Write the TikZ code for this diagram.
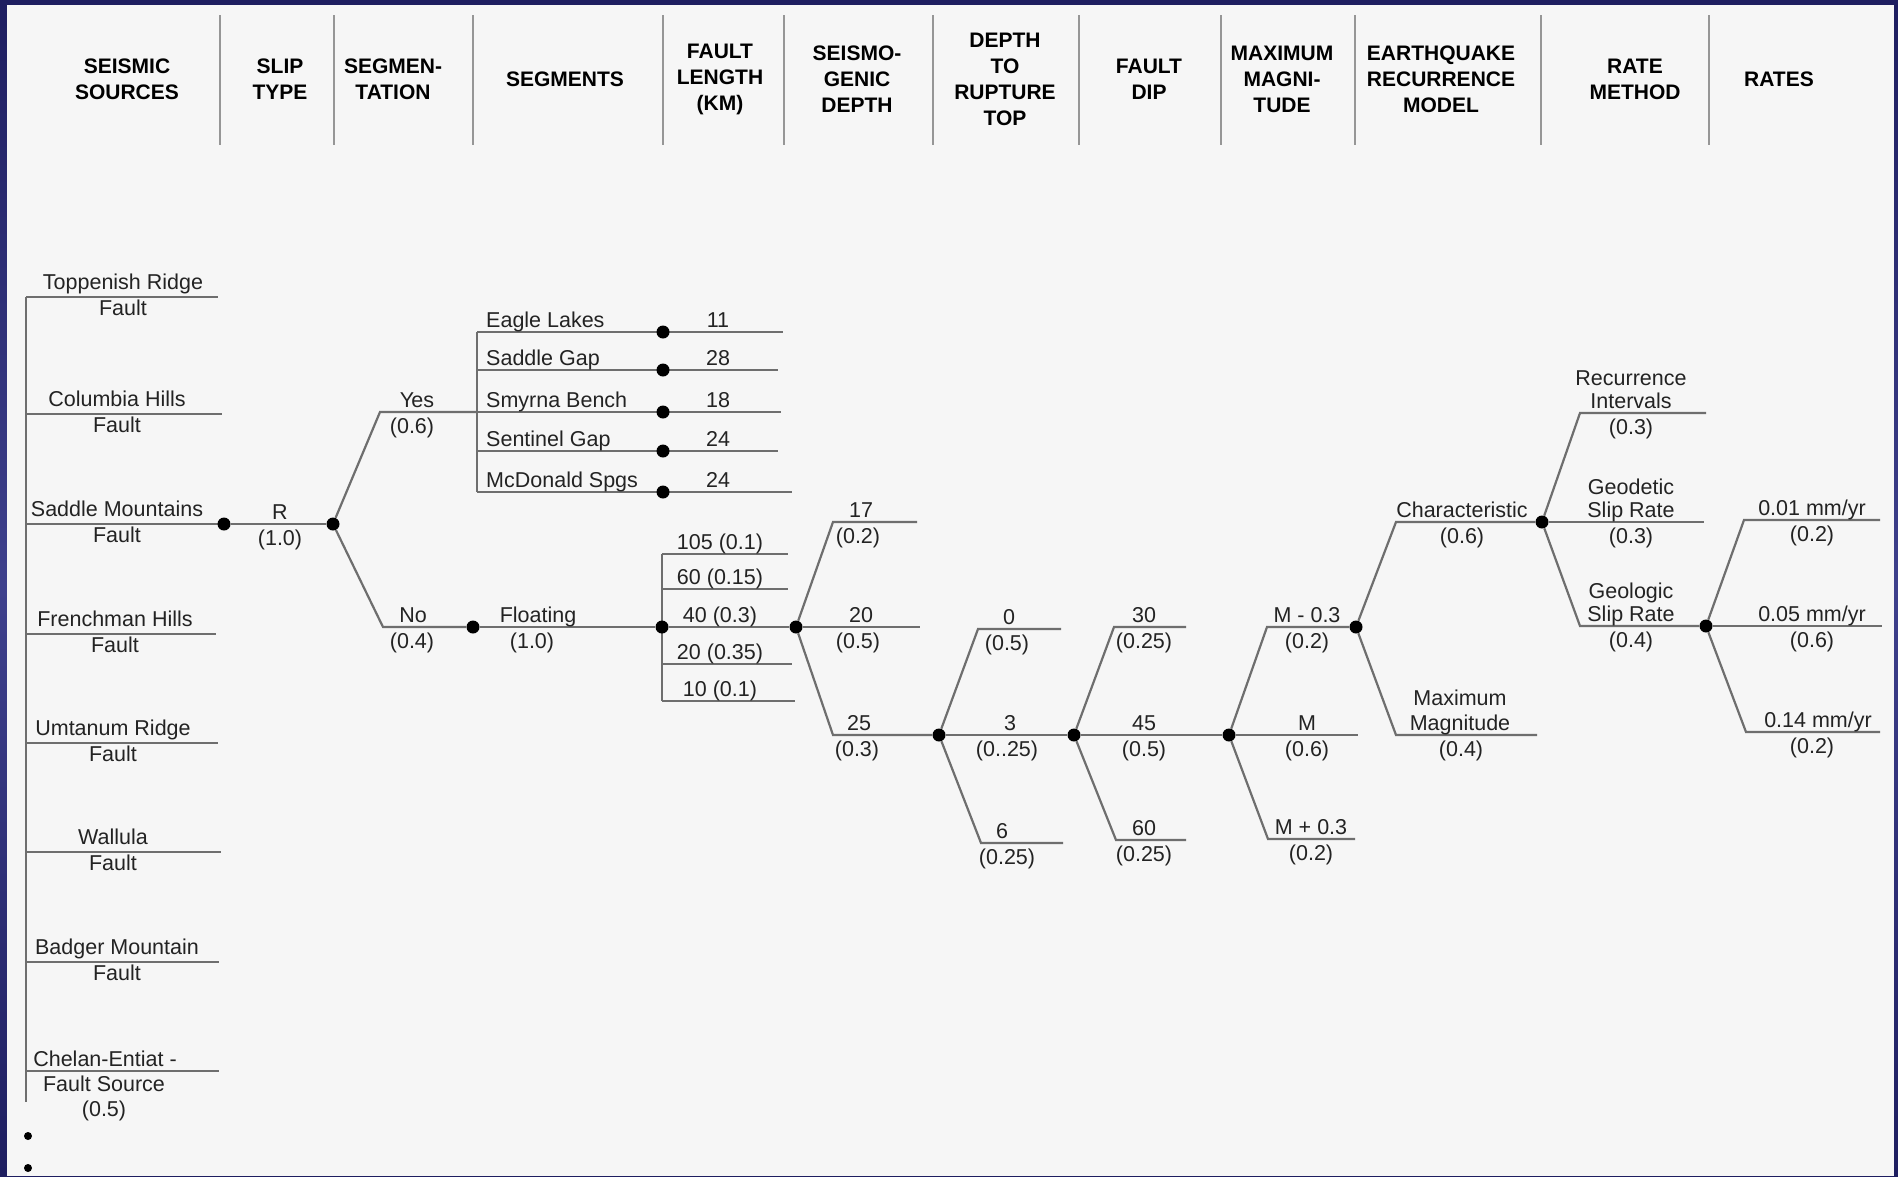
\documentclass[tikz,border=0pt]{standalone}
\usepackage{fontspec}
\setmainfont{Liberation Sans}
\usetikzlibrary{positioning}

\definecolor{bluedark}{RGB}{30,30,96}
\definecolor{bluemid}{RGB}{62,64,140}
\definecolor{panel}{RGB}{246,246,246}
\definecolor{linegray}{RGB}{110,110,110}
\definecolor{sepgray}{RGB}{150,150,150}
\definecolor{ink}{RGB}{35,35,35}

\newcommand{\lstrut}{\rule[-4.6pt]{0pt}{20.4pt}}

\begin{document}
\begin{tikzpicture}[x=1pt,y=-1pt,
    dot/.style={circle,fill=black,inner sep=0pt,minimum size=13pt},
    smalldot/.style={circle,fill=black,inner sep=0pt,minimum size=8pt},
    branch/.style={draw=linegray,line width=2.2pt},
    colsep/.style={draw=sepgray,line width=2pt},
    hdr/.style={font=\fontsize{21pt}{26pt}\selectfont\bfseries,align=center,inner sep=0pt,text=black},
    lbl/.style={font=\fontsize{21.5pt}{25pt}\selectfont,align=center,inner sep=0pt,text=ink,
        execute at begin node=\lstrut,execute at end node=\lstrut},
    toplbl/.style={lbl,anchor=south},
    botlbl/.style={lbl,anchor=north,yshift=-5pt},
    src/.style={lbl,font=\fontsize{21.5pt}{26pt}\selectfont},
    tight/.style={font=\fontsize{21.5pt}{22.5pt}\selectfont}]

    % Draw slide background
    \shade[top color=bluedark,bottom color=bluedark,middle color=bluemid] (0,0) rectangle (1898,1176);
    \fill[panel] (7,5) rectangle (1894,1176);
    \useasboundingbox (0,0) rectangle (1898,1176);

    % Draw column headings
    \foreach \x in {220,334,473,663,784,933,1079,1221,1355,1541,1709}
        \draw[colsep] (\x,15) -- (\x,145);
    \foreach \x/\txt [count=\i] in {127/SEISMIC\\SOURCES, 280/SLIP\\TYPE, 393/SEGMEN-\\TATION,
            565/SEGMENTS, 720/FAULT\\LENGTH\\(KM), 857/SEISMO-\\GENIC\\DEPTH,
            1005/DEPTH\\TO\\RUPTURE\\TOP, 1149/FAULT\\DIP, 1282/MAXIMUM\\MAGNI-\\TUDE,
            1441/EARTHQUAKE\\RECURRENCE\\MODEL, 1635/RATE\\METHOD, 1779/RATES}
        \node[hdr] (hdr\i) at (\x,79) {\txt};

    % Draw seismic sources
    \foreach \y/\xe/\xl/\nm [count=\i] in {297/218/123/Toppenish Ridge, 414/222/117/Columbia Hills,
            524/224/117/Saddle Mountains, 634/216/115/Frenchman Hills, 743/218/113/Umtanum Ridge,
            852/221/113/Wallula, 962/219/117/Badger Mountain}{
        \coordinate (src\i) at (26,\y);
        \coordinate (srcend\i) at (\xe,\y);
        \draw[branch] (src\i) -- (srcend\i);
        \node[src] (srclbl\i) at (\xl,\y) {\nm\\Fault\lstrut};
    }
    \coordinate (src8) at (26,1071);
    \coordinate (srcend8) at (219,1071);
    \coordinate (srcbot) at (26,1102);
    \draw[branch] (src8) -- (srcend8);
    \draw[branch] (src1) -- (srcbot);
    \node[toplbl] (srclbl8) at (105,1071) {Chelan-Entiat -};
    \node[botlbl] (srcprob8) at (104,1071) {Fault Source\\(0.5)};
    \node[smalldot] (more1) at (28,1136) {};
    \node[smalldot] (more2) at (28,1168) {};

    % Slip type
    \node[dot] (smdot) at (srcend3) {};
    \node[dot] (slip) at (333,524) {};
    \draw[branch] (smdot) -- (slip);
    \node[toplbl] (lslip) at (280,524) {R};
    \node[botlbl] (pslip) at (280,524) {(1.0)};

    % Segmentation
    \coordinate (yescorner) at (380,412);
    \coordinate (segjoin) at (477,412);
    \coordinate (nocorner) at (383,627);
    \node[dot] (float) at (473,627) {};
    \draw[branch] (slip) -- (yescorner) -- (segjoin);
    \draw[branch] (slip) -- (nocorner) -- (float);
    \node[toplbl] (lyes) at (417,412) {Y\kern-3pt es};
    \node[botlbl] (pyes) at (412,412) {(0.6)};
    \node[toplbl] (lno) at (413,627) {No};
    \node[botlbl] (pno) at (412,627) {(0.4)};

    % Segments
    \coordinate (segtop) at (477,332);
    \coordinate (segbot) at (477,492);
    \draw[branch] (segtop) -- (segbot);
    \foreach \y/\xe/\nm/\len [count=\i] in {332/783/Eagle Lakes/11, 370/778/Saddle Gap/28,
            412/781/Smyrna Bench/18, 451/778/Sentinel Gap/24, 492/792/McDonald Spgs/24}{
        \coordinate (seg\i) at (477,\y);
        \coordinate (segend\i) at (\xe,\y);
        \draw[branch] (seg\i) -- (segend\i);
        \node[dot] (segdot\i) at (663,\y) {};
        \node[toplbl,anchor=south west] (segname\i) at (486,\y) {\nm};
        \node[toplbl] (seglen\i) at (718,\y) {\len};
    }

    % Floating rupture and fault length
    \coordinate (fltop) at (662,554);
    \coordinate (flbot) at (662,701);
    \draw[branch] (fltop) -- (flbot);
    \foreach \y/\xe/\lab [count=\i] in {554/788/105 (0.1), 589/788/60 (0.15), 664/792/20 (0.35), 701/795/10 (0.1)}{
        \coordinate (fl\i) at (662,\y);
        \coordinate (flend\i) at (\xe,\y);
        \draw[branch] (fl\i) -- (flend\i);
        \node[toplbl] (fllbl\i) at (720,\y) {\lab};
    }
    \node[dot] (flen) at (662,627) {};
    \node[dot] (seis) at (796,627) {};
    \draw[branch] (float) -- (flen);
    \draw[branch] (flen) -- (seis);
    \node[toplbl] (lfloat) at (538,627) {Floating};
    \node[botlbl] (pfloat) at (532,627) {(1.0)};
    \node[toplbl] (fllbl5) at (720,627) {40 (0.3)};

    % Seismogenic depth
    \coordinate (c17) at (833,522);
    \coordinate (e17) at (917,522);
    \coordinate (e20) at (920,627);
    \coordinate (c25) at (833,735);
    \node[dot] (depth) at (939,735) {};
    \draw[branch] (seis) -- (c17) -- (e17);
    \draw[branch] (seis) -- (e20);
    \draw[branch] (seis) -- (c25) -- (depth);
    \node[toplbl] (l17) at (861,522) {17};
    \node[botlbl] (p17) at (858,522) {(0.2)};
    \node[toplbl] (l20) at (861,627) {20};
    \node[botlbl] (p20) at (858,627) {(0.5)};
    \node[toplbl] (l25) at (859,735) {25};
    \node[botlbl] (p25) at (857,735) {(0.3)};

    % Depth to rupture top
    \coordinate (c0) at (978,629);
    \coordinate (e0) at (1061,629);
    \coordinate (c6) at (981,843);
    \coordinate (e6) at (1063,843);
    \node[dot] (dip) at (1074,735) {};
    \draw[branch] (depth) -- (c0) -- (e0);
    \draw[branch] (depth) -- (dip);
    \draw[branch] (depth) -- (c6) -- (e6);
    \node[toplbl] (l0) at (1009,629) {0};
    \node[botlbl] (p0) at (1007,629) {(0.5)};
    \node[toplbl] (l3) at (1010,735) {3};
    \node[botlbl] (p3) at (1007,735) {(0..25)};
    \node[toplbl] (l6) at (1002,843) {6};
    \node[botlbl] (p6) at (1007,843) {(0.25)};

    % Fault dip
    \coordinate (c30) at (1114,627);
    \coordinate (e30) at (1186,627);
    \coordinate (c60) at (1116,840);
    \coordinate (e60) at (1186,840);
    \node[dot] (mag) at (1229,735) {};
    \draw[branch] (dip) -- (c30) -- (e30);
    \draw[branch] (dip) -- (mag);
    \draw[branch] (dip) -- (c60) -- (e60);
    \node[toplbl] (l30) at (1144,627) {30};
    \node[botlbl] (p30) at (1144,627) {(0.25)};
    \node[toplbl] (l45) at (1144,735) {45};
    \node[botlbl] (p45) at (1144,735) {(0.5)};
    \node[toplbl] (l60) at (1144,840) {60};
    \node[botlbl] (p60) at (1144,840) {(0.25)};

    % Maximum magnitude
    \coordinate (cmlo) at (1267,627);
    \coordinate (emmid) at (1358,735);
    \coordinate (cmhi) at (1268,839);
    \coordinate (emhi) at (1355,839);
    \node[dot] (eq) at (1356,627) {};
    \draw[branch] (mag) -- (cmlo) -- (eq);
    \draw[branch] (mag) -- (emmid);
    \draw[branch] (mag) -- (cmhi) -- (emhi);
    \node[toplbl] (lmlo) at (1307,627) {M - 0.3};
    \node[botlbl] (pmlo) at (1307,627) {(0.2)};
    \node[toplbl] (lmmid) at (1307,735) {M};
    \node[botlbl] (pmmid) at (1307,735) {(0.6)};
    \node[toplbl] (lmhi) at (1311,839) {M + 0.3};
    \node[botlbl] (pmhi) at (1311,839) {(0.2)};

    % Earthquake recurrence model
    \coordinate (cchar) at (1396,522);
    \coordinate (cmax) at (1396,735);
    \coordinate (emax) at (1537,735);
    \node[dot] (rate) at (1542,522) {};
    \draw[branch] (eq) -- (cchar) -- (rate);
    \draw[branch] (eq) -- (cmax) -- (emax);
    \node[toplbl] (lchar) at (1462,522) {Characteristic};
    \node[botlbl] (pchar) at (1462,522) {(0.6)};
    \node[toplbl] (lmax) at (1460,735) {Maximum\\Magnitude\lstrut};
    \node[botlbl] (pmax) at (1461,735) {(0.4)};

    % Rate method
    \coordinate (crec) at (1580,413);
    \coordinate (erec) at (1706,413);
    \coordinate (egeod) at (1704,522);
    \coordinate (cgeol) at (1580,626);
    \node[dot] (rates) at (1706,626) {};
    \draw[branch] (rate) -- (crec) -- (erec);
    \draw[branch] (rate) -- (egeod);
    \draw[branch] (rate) -- (cgeol) -- (rates);
    \node[toplbl,tight] (lrec) at (1631,413) {Recurrence\\Intervals\lstrut};
    \node[botlbl] (prec) at (1631,413) {(0.3)};
    \node[toplbl,tight] (lgeod) at (1631,522) {Geodetic\\Slip Rate\lstrut};
    \node[botlbl] (pgeod) at (1631,522) {(0.3)};
    \node[toplbl,tight] (lgeol) at (1631,626) {Geologic\\Slip Rate\lstrut};
    \node[botlbl] (pgeol) at (1631,626) {(0.4)};

    % Rates
    \coordinate (clo) at (1744,520);
    \coordinate (elo) at (1880,520);
    \coordinate (emid) at (1882,626);
    \coordinate (chi) at (1746,732);
    \coordinate (ehi) at (1880,732);
    \draw[branch] (rates) -- (clo) -- (elo);
    \draw[branch] (rates) -- (emid);
    \draw[branch] (rates) -- (chi) -- (ehi);
    \node[toplbl] (llo) at (1812,520) {0.01 mm/yr};
    \node[botlbl] (plo) at (1812,520) {(0.2)};
    \node[toplbl] (lmid) at (1812,626) {0.05 mm/yr};
    \node[botlbl] (pmid) at (1812,626) {(0.6)};
    \node[toplbl] (lhi) at (1818,732) {0.14 mm/yr};
    \node[botlbl] (phi) at (1812,732) {(0.2)};

\end{tikzpicture}
\end{document}
